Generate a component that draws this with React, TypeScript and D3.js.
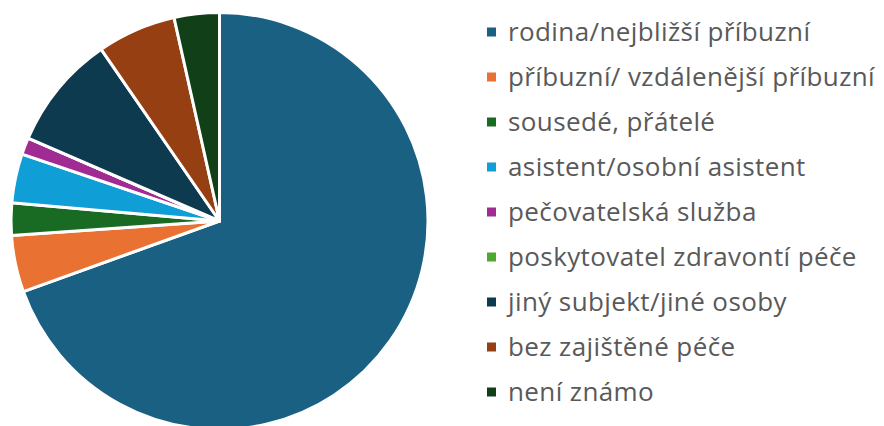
import React, { useRef, useEffect } from 'react';
import * as d3 from 'd3';

const categories = [
  'rodina/nejbližší příbuzní',
  'příbuzní/ vzdálenější příbuzní',
  'sousedé, přátelé',
  'asistent/osobní asistent',
  'pečovatelská služba',
  'poskytovatel zdravontí péče',
  'jiný subjekt/jiné osoby',
  'bez zajištěné péče',
  'není známo',
];

// share of cases, percent
const values = [69.5, 4.4, 2.5, 3.8, 1.3, 0, 8.9, 6.1, 3.5];

const colors = [
  '#196083',
  '#e97132',
  '#196b24',
  '#0f9ed5',
  '#a02b93',
  '#4ea72e',
  '#0e3a50',
  '#953f13',
  '#113f17',
];

const width = 884;
const height = 426;

const App = () => {
  const svgRef = useRef<SVGSVGElement>(null);

  useEffect(() => {
    const svg = d3.select(svgRef.current);
    svg.selectAll('*').remove();

    const cx = 219.5;
    const cy = 221;
    const radius = 208.5;

    const pie = d3.pie<number>().sort(null).value(d => d);
    const arc = d3.arc<d3.PieArcDatum<number>>().innerRadius(0).outerRadius(radius);

    const g = svg.append('g').attr('transform', `translate(${cx},${cy})`);

    g.selectAll('path')
      .data(pie(values))
      .enter()
      .append('path')
      .attr('d', arc)
      .attr('fill', (d, i) => colors[i])
      .attr('stroke', '#ffffff')
      .attr('stroke-width', 3)
      .attr('stroke-linejoin', 'round');

    // legend
    const legendX = 487;
    const legendY = 32;
    const rowGap = 45;

    const legend = svg.append('g');
    const rows = legend.selectAll('g')
      .data(categories)
      .enter()
      .append('g')
      .attr('transform', (d, i) => `translate(${legendX},${legendY + i * rowGap})`);

    rows.append('rect')
      .attr('x', 0)
      .attr('y', -4.5)
      .attr('width', 9)
      .attr('height', 9)
      .attr('fill', (d, i) => colors[i]);

    rows.append('text')
      .attr('x', 21)
      .attr('y', 0)
      .attr('dy', '0.35em')
      .style('font-family', '"Open Sans", "Noto Sans", sans-serif')
      .style('font-size', '26px')
      .style('letter-spacing', '0.4px')
      .style('fill', '#595959')
      .text(d => d);
  }, []);

  return (
    <svg
      ref={svgRef}
      width={width}
      height={height}
      style={{ position: 'absolute', left: 0, top: 0, background: '#ffffff' }}
    />
  );
};

export default App;
